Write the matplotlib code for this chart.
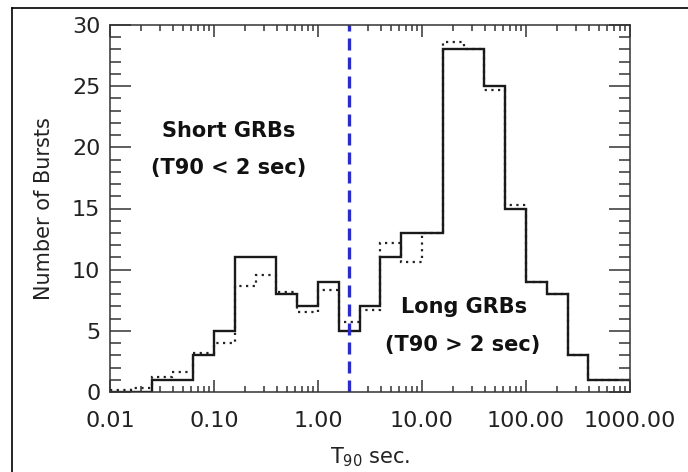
import matplotlib
matplotlib.use("Agg")
import matplotlib.pyplot as plt
from matplotlib.lines import Line2D
from matplotlib.ticker import FixedLocator, LogLocator, NullFormatter, MultipleLocator

plt.rcParams['font.family'] = ['DejaVu Sans']
plt.rcParams['mathtext.fontset'] = 'dejavusans'

# log10 of the bin edges (0.2-decade bins from 0.01 s to 1000 s)
bin_edges_log10 = [-2.0, -1.8, -1.6, -1.4, -1.2, -1.0, -0.8, -0.6, -0.4, -0.2,
                   0.0, 0.2, 0.4, 0.6, 0.8, 1.0, 1.2, 1.4, 1.6, 1.8,
                   2.0, 2.2, 2.4, 2.6, 2.8, 3.0]
counts_solid = [0, 0, 1, 1, 3, 5, 11, 11, 8, 7, 9, 5, 7, 11, 13, 13,
                28, 28, 25, 15, 9, 8, 3, 1, 1]
counts_dotted = [0.15, 0.3, 1.2, 1.6, 3.2, 4.0, 8.7, 9.6, 8.2, 6.5, 8.3, 5.7,
                 6.7, 12.2, 10.6, 13, 28.6, 28, 24.7, 15.3, 9, 8, 3, 1, 1]
divider_sec = 2.0
x_ticks = [0.01, 0.1, 1.0, 10.0, 100.0, 1000.0]
x_tick_labels = ["0.01", "0.10", "1.00", "10.00", "100.00", "1000.00"]
y_ticks = [0, 5, 10, 15, 20, 25, 30]

edges = [10 ** e for e in bin_edges_log10]

fig = plt.figure(figsize=(6.88, 4.72), dpi=100)
ax = fig.add_axes([110 / 688, 1 - 392 / 472, 520 / 688, 367 / 472])

ax.stairs(counts_dotted, edges, baseline=None, color='#222222', lw=1.6,
          linestyle=(0, (1, 2)))
ax.stairs(counts_solid, edges, baseline=None, color='#1a1a1a', lw=1.7)
ax.axvline(divider_sec, color='#2b2bcc', lw=2.4, dashes=(3.6, 2.1))

ax.set_xscale('log')
ax.set_xlim(0.01, 1000)
ax.set_ylim(0, 30)
ax.xaxis.set_major_locator(FixedLocator(x_ticks))
ax.set_xticklabels(x_tick_labels)
ax.xaxis.set_minor_locator(LogLocator(base=10, subs=range(2, 10), numticks=20))
ax.xaxis.set_minor_formatter(NullFormatter())
ax.set_yticks(y_ticks)
ax.yaxis.set_minor_locator(MultipleLocator(1))

ax.tick_params(axis='both', which='both', direction='in', top=True, right=True,
               color='#333333', width=1.1, labelsize=16, labelcolor='#222222')
ax.tick_params(axis='x', which='major', length=8.5, pad=14)
ax.tick_params(axis='x', which='minor', length=4.3)
ax.tick_params(axis='y', which='major', length=15, pad=7)
ax.tick_params(axis='y', which='minor', length=8)
for s in ax.spines.values():
    s.set_color('#333333')
    s.set_linewidth(1.1)

ax.set_xlabel(r'$\mathregular{T_{90}}$ sec.', fontsize=15, color='#222222', labelpad=10)
ax.set_ylabel('Number of Bursts', fontsize=15, color='#222222', labelpad=13)


def px(x, y):
    # pixel coordinates (origin top-left) to figure fraction
    return x / 688, 1 - y / 472


ax.text(*px(229, 131), 'Short GRBs', transform=fig.transFigure, fontsize=15,
        fontweight='bold', ha='center', va='center', color='#111111')
ax.text(*px(229, 168), '(T90 < 2 sec)', transform=fig.transFigure, fontsize=15,
        fontweight='bold', ha='center', va='center', color='#111111')
ax.text(*px(464, 307), 'Long GRBs', transform=fig.transFigure, fontsize=15,
        fontweight='bold', ha='center', va='center', color='#111111')
ax.text(*px(463, 345), '(T90 > 2 sec)', transform=fig.transFigure, fontsize=15,
        fontweight='bold', ha='center', va='center', color='#111111')

# outer frame lines (left and top) of the picture
fig.add_artist(Line2D([12 / 688, 12 / 688], [0, 1 - 8 / 472], color='black',
                      lw=1.2, transform=fig.transFigure))
fig.add_artist(Line2D([12 / 688, 1], [1 - 8 / 472, 1 - 8 / 472], color='black',
                      lw=1.2, transform=fig.transFigure))

fig.savefig('out.png', dpi=100)
